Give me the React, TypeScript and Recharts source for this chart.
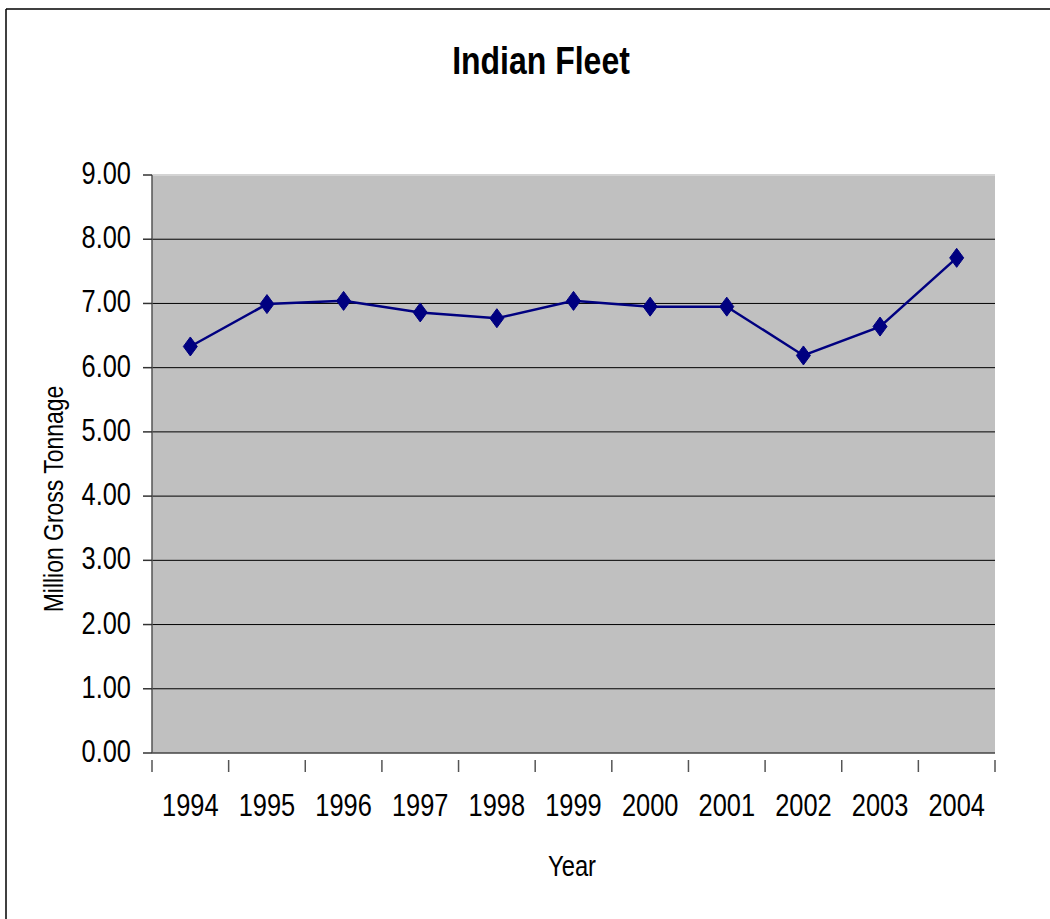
import React from "react";
import { LineChart, Line, XAxis, YAxis, CartesianGrid, ReferenceLine } from "recharts";

const years = ["1994", "1995", "1996", "1997", "1998", "1999", "2000", "2001", "2002", "2003", "2004"];
const tonnage = [6.33, 6.99, 7.04, 6.86, 6.77, 7.04, 6.95, 6.95, 6.19, 6.64, 7.71];
const yTicks = [0, 1, 2, 3, 4, 5, 6, 7, 8, 9];
const gridValues = [1, 2, 3, 4, 5, 6, 7, 8];

const data = years.map((y, i) => ({ year: y, value: tonnage[i] }));

const FONT = "'Liberation Sans', Arial, sans-serif";
const SX = 0.82;
const HALF_BAND = 843 / years.length / 2;

const NText = (p: { x: number; y: number; size: number; anchor: string; bold?: boolean; rotate?: boolean; children: any }) => (
  <g transform={`translate(${p.x},${p.y})${p.rotate ? " rotate(-90)" : ""} scale(${SX},1)`}>
    <text x={0} y={0} textAnchor={p.anchor as any} fontSize={p.size} fontFamily={FONT} fontWeight={p.bold ? "bold" : "normal"} fill="#000">
      {p.children}
    </text>
  </g>
);

const Diamond = (props: any) => {
  const { cx, cy } = props;
  if (cx == null || cy == null) return null;
  return (
    <polygon
      points={`${cx},${cy - 9.5} ${cx + 7},${cy} ${cx},${cy + 9.5} ${cx - 7},${cy}`}
      fill="#000080"
      stroke="#000080"
      strokeWidth={1}
    />
  );
};

const XTick = (props: any) => {
  const { x, y, payload, index } = props;
  const last = index === years.length - 1;
  return (
    <g>
      <line x1={x - HALF_BAND} y1={y - 1} x2={x - HALF_BAND} y2={y + 11} stroke="#555" strokeWidth={1.5} />
      {last && <line x1={x + HALF_BAND} y1={y - 1} x2={x + HALF_BAND} y2={y + 11} stroke="#555" strokeWidth={1.5} />}
      <NText x={x} y={y + 55} size={31} anchor="middle">
        {payload.value}
      </NText>
    </g>
  );
};

const YTick = (props: any) => {
  const { x, y, payload } = props;
  return (
    <NText x={x} y={y + 9} size={31} anchor="end">
      {Number(payload.value).toFixed(2)}
    </NText>
  );
};

export default function App() {
  return (
    <div style={{ position: "absolute", left: 0, top: 0, width: 1050, height: 919, overflow: "hidden", background: "#fff" }}>
      <div style={{ position: "absolute", left: 0, top: 0 }}>
        <LineChart width={1050} height={919} data={data} margin={{ top: 175, right: 55, left: 52, bottom: 66 }}>
          <CartesianGrid vertical={false} horizontal={false} fill="#C0C0C0" fillOpacity={1} />
          <ReferenceLine y={9} stroke="#d4d4d4" strokeWidth={2} />
          {gridValues.map((v) => (
            <ReferenceLine key={v} y={v} stroke="#000" strokeWidth={1} />
          ))}
          <XAxis
            dataKey="year"
            scale="band"
            height={100}
            tickLine={false}
            axisLine={{ stroke: "#444", strokeWidth: 1.5 }}
            tick={<XTick />}
            interval={0}
          />
          <YAxis
            domain={[0, 9]}
            ticks={yTicks}
            width={100}
            tick={<YTick />}
            tickSize={9}
            tickMargin={12}
            tickLine={{ stroke: "#333", strokeWidth: 1.5 }}
            axisLine={{ stroke: "#555", strokeWidth: 1.5 }}
            interval={0}
          />
          <Line
            type="linear"
            dataKey="value"
            stroke="#000080"
            strokeWidth={2.5}
            dot={<Diamond />}
            activeDot={false}
            isAnimationActive={false}
          />
        </LineChart>
      </div>
      <svg width={1050} height={919} style={{ position: "absolute", left: 0, top: 0, pointerEvents: "none" }}>
        <line x1={6} y1={9} x2={1050} y2={9} stroke="#000" strokeWidth={1.5} />
        <line x1={6} y1={9} x2={6} y2={919} stroke="#000" strokeWidth={1.5} />
        <NText x={541} y={74} size={39} anchor="middle" bold>
          Indian Fleet
        </NText>
        <NText x={572} y={876} size={29} anchor="middle">
          Year
        </NText>
        <NText x={63} y={499} size={28} anchor="middle" rotate>
          Million Gross Tonnage
        </NText>
      </svg>
    </div>
  );
}
